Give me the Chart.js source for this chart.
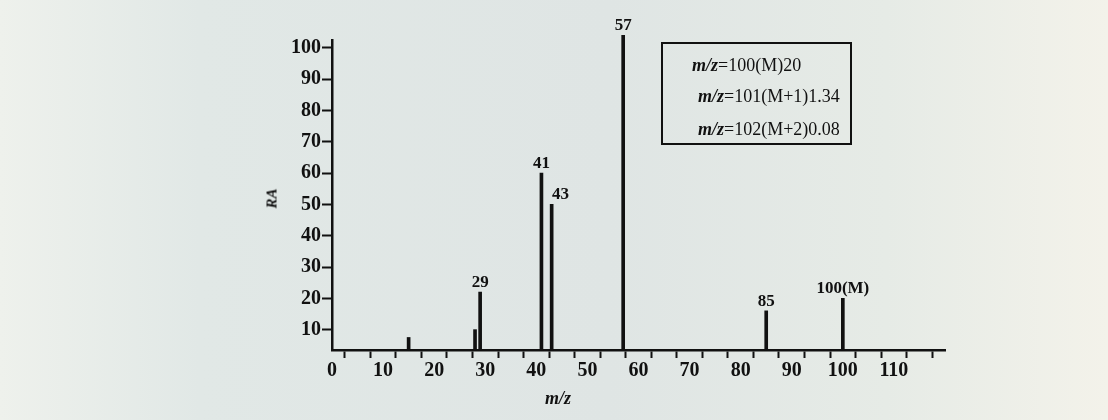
<!DOCTYPE html>
<html>
<head>
<meta charset="utf-8">
<script src="https://cdn.jsdelivr.net/npm/chart.js@4.4.1/dist/chart.umd.min.js"></script>
<style>
    html, body { margin: 0; padding: 0; }
    body {
        width: 1108px; height: 420px; overflow: hidden; position: relative;
        background: linear-gradient(90deg, #eef1ec 0%, #e1e8e6 18%, #dfe5e4 55%, #e6ebe6 80%, #f3f2ea 100%);
        font-family: "Liberation Serif", "DejaVu Serif", serif;
        color: #111;
    }
    #wrap { position: absolute; left: 0; top: 0; width: 1108px; height: 420px; }
    .box {
        position: absolute; left: 661px; top: 42px; width: 191px; height: 103px;
        box-sizing: border-box; border: 2px solid #111;
    }
    .box div { position: absolute; font-size: 18px; line-height: 18px; white-space: nowrap; }
    .box i { font-weight: bold; }
    .ytitle {
        position: absolute; left: 262px; top: 190px; font-size: 15px;
        font-weight: bold; font-style: italic; transform: rotate(-90deg);
    }
    .xtitle {
        position: absolute; left: 545px; top: 388px; font-size: 18px;
        font-weight: bold; font-style: italic;
    }
</style>
</head>
<body>
<div id="wrap"><canvas id="msChart" width="1108" height="420"></canvas></div>
<div class="box">
    <div style="left:29px; top:12px;"><i>m/z</i>=100(M)20</div>
    <div style="left:35px; top:43px;"><i>m/z</i>=101(M+1)1.34</div>
    <div style="left:35px; top:76px;"><i>m/z</i>=102(M+2)0.08</div>
</div>
<div class="ytitle">RA</div>
<div class="xtitle">m/z</div>
<script>
// peaks
const mz = [15, 28, 29, 41, 43, 57, 85, 100];
const ra = [7.5, 10, 22, 60, 50, 104, 16, 20];
const peakLabels = ['', '', '29', '41', '43', '57', '85', '100(M)'];

const xTicks = [0, 5, 10, 15, 20, 25, 30, 35, 40, 45, 50, 55, 60, 65, 70, 75, 80, 85, 90, 95, 100, 105, 110, 115];
const xTickLabels = [0, 10, 20, 30, 40, 50, 60, 70, 80, 90, 100, 110];
const yTicks = [10, 20, 30, 40, 50, 60, 70, 80, 90, 100];

const ink = '#111';
const serif = '"Liberation Serif", "DejaVu Serif", serif';

const peakLabelPlugin = {
    id: 'peakLabels',
    afterDatasetsDraw(chart) {
        const ctx = chart.ctx;
        const meta = chart.getDatasetMeta(0);
        ctx.save();
        ctx.font = 'bold 17px ' + serif;
        ctx.fillStyle = ink;
        ctx.textAlign = 'center';
        ctx.textBaseline = 'bottom';
        let lastRight = -Infinity;
        meta.data.forEach((bar, i) => {
            const txt = peakLabels[i];
            if (!txt) return;
            const w = ctx.measureText(txt).width;
            let cx = bar.x;
            // nudge right if it would run into the previous label
            if (cx - w / 2 < lastRight + 2) cx = lastRight + 2 + w / 2;
            ctx.fillText(txt, cx, bar.y - 1);
            lastRight = cx + w / 2;
        });
        ctx.restore();
    }
};

new Chart(document.getElementById('msChart'), {
    type: 'bar',
    data: {
        datasets: [{
            data: mz.map((x, i) => ({ x: x, y: ra[i] })),
            backgroundColor: ink,
            borderWidth: 0,
            barThickness: 3,
            base: 3.5,
            clip: false
        }]
    },
    options: {
        responsive: false,
        animation: false,
        layout: { padding: { left: 0, top: 40, right: 163, bottom: 0 } },
        plugins: { legend: { display: false }, tooltip: { enabled: false } },
        scales: {
            x: {
                type: 'linear',
                min: 0,
                max: 120,
                offset: false,
                afterBuildTicks: s => { s.ticks = xTicks.map(v => ({ value: v })); },
                afterFit: s => { s.height = 70; },
                border: { display: true, color: ink, width: 2.5 },
                grid: { drawOnChartArea: false, drawTicks: true, tickLength: 8, color: ink, tickWidth: 2 },
                ticks: {
                    autoSkip: false, maxRotation: 0, padding: 1, color: ink,
                    font: { family: serif, size: 20, weight: 'bold' },
                    callback: v => xTickLabels.includes(v) ? String(v) : ''
                }
            },
            y: {
                min: 3.5,
                max: 102.5,
                afterBuildTicks: s => { s.ticks = yTicks.map(v => ({ value: v })); },
                afterFit: s => { s.width = 332; },
                border: { display: true, color: ink, width: 2.5 },
                grid: { drawOnChartArea: false, drawTicks: true, tickLength: 10, color: ink, tickWidth: 2 },
                ticks: {
                    padding: 1, color: ink,
                    font: { family: serif, size: 20, weight: 'bold' }
                }
            }
        }
    },
    plugins: [peakLabelPlugin]
});
</script>
</body>
</html>
